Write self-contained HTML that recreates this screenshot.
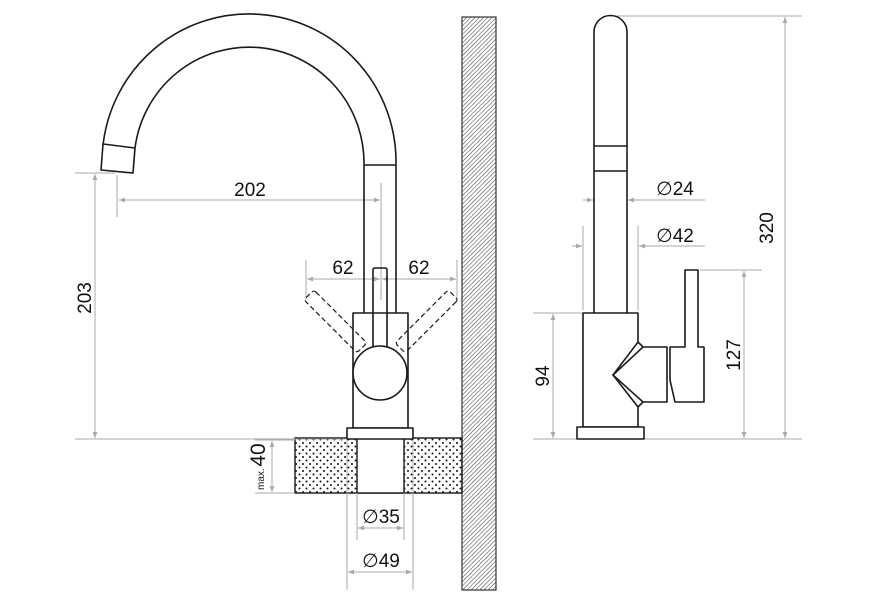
<!DOCTYPE html>
<html><head><meta charset="utf-8"><style>
html,body{margin:0;padding:0;background:#fff;width:874px;height:608px;overflow:hidden}
svg{display:block}
text{font-family:"Liberation Sans",Arial,sans-serif;fill:#111}
</style></head><body>
<svg width="874" height="608" viewBox="0 0 874 608" xmlns="http://www.w3.org/2000/svg">
<defs>
<marker id="a" viewBox="0 0 10 10" refX="10" refY="5" markerWidth="11" markerHeight="6" markerUnits="userSpaceOnUse" orient="auto-start-reverse">
<path d="M0,1 L10,5 L0,9 z" fill="#a8a8a8"/></marker>
<pattern id="h" width="3" height="3" patternUnits="userSpaceOnUse" patternTransform="rotate(45)">
<line x1="0" y1="0" x2="0" y2="3" stroke="#444" stroke-width="1.1"/></pattern>
<pattern id="d" width="7" height="7" patternUnits="userSpaceOnUse">
<circle cx="2" cy="2" r="1" fill="#111"/><circle cx="5.5" cy="5.5" r="1" fill="#111"/></pattern>
</defs>

<!-- wall -->
<rect x="462" y="17" width="34" height="573" fill="url(#h)" stroke="#333" stroke-width="1.2"/>

<!-- countertop -->
<rect x="295" y="438" width="167" height="55" fill="url(#d)" stroke="#222" stroke-width="1.5"/>
<rect x="357" y="438" width="47" height="55" fill="#fff" stroke="#222" stroke-width="1.5"/>

<g fill="none" stroke="#a8a8a8" stroke-width="1">
<line x1="117" y1="175" x2="117" y2="217"/>
<line x1="381" y1="183" x2="381" y2="300"/>
<line x1="119" y1="200" x2="380" y2="200" marker-start="url(#a)" marker-end="url(#a)"/>
<line x1="75" y1="173" x2="115" y2="173"/>
<line x1="75" y1="439" x2="345" y2="439"/>
<line x1="95" y1="174" x2="95" y2="438" marker-start="url(#a)" marker-end="url(#a)"/>
<line x1="306" y1="260" x2="306" y2="300"/>
<line x1="457" y1="260" x2="457" y2="300"/>
<line x1="307" y1="279" x2="380" y2="279" marker-start="url(#a)" marker-end="url(#a)"/>
<line x1="382" y1="279" x2="456" y2="279" marker-start="url(#a)" marker-end="url(#a)"/>
<line x1="255" y1="440" x2="295" y2="440"/>
<line x1="255" y1="493" x2="295" y2="493"/>
<line x1="272" y1="441" x2="272" y2="492" marker-start="url(#a)" marker-end="url(#a)"/>
<line x1="357" y1="493" x2="357" y2="540"/>
<line x1="404" y1="493" x2="404" y2="540"/>
<line x1="358" y1="528" x2="403" y2="528" marker-start="url(#a)" marker-end="url(#a)"/>
<line x1="347" y1="440" x2="347" y2="590"/>
<line x1="413" y1="440" x2="413" y2="590"/>
<line x1="348" y1="572" x2="412" y2="572" marker-start="url(#a)" marker-end="url(#a)"/>
<line x1="610" y1="16" x2="802" y2="16"/>
<line x1="533" y1="439" x2="802" y2="439"/>
<line x1="785" y1="17" x2="785" y2="438" marker-start="url(#a)" marker-end="url(#a)"/>
<line x1="700" y1="270" x2="762" y2="270"/>
<line x1="744" y1="271" x2="744" y2="438" marker-start="url(#a)" marker-end="url(#a)"/>
<line x1="533" y1="313" x2="583" y2="313"/>
<line x1="553" y1="314" x2="553" y2="438" marker-start="url(#a)" marker-end="url(#a)"/>
<line x1="583" y1="200" x2="593" y2="200" marker-end="url(#a)"/>
<line x1="705" y1="200" x2="628" y2="200" marker-end="url(#a)"/>
<line x1="583" y1="226" x2="583" y2="310"/>
<line x1="638" y1="226" x2="638" y2="310"/>
<line x1="572" y1="246" x2="582" y2="246" marker-end="url(#a)"/>
<line x1="705" y1="246" x2="639" y2="246" marker-end="url(#a)"/>
</g>

<!-- front view faucet -->
<g fill="none" stroke="#1a1a1a" stroke-width="1.6" stroke-linejoin="round">
<path d="M103,145 A147,148 0 0 1 396,165"/>
<path d="M135,148 A115,116 0 0 1 364,165"/>
<path d="M103,144 L135,148 L133,173 L101,170 Z" fill="#fff"/>
<line x1="364" y1="165" x2="396" y2="165"/>
<line x1="364" y1="165" x2="364" y2="313"/>
<line x1="396" y1="165" x2="396" y2="313"/>
<path d="M373,347 L373,270 Q373,268 375,268 L385,268 Q387,268 387,270 L387,347"/>
<rect x="353" y="313" width="55" height="115" fill="#fff"/>
<line x1="373" y1="313" x2="373" y2="348"/>
<line x1="387" y1="313" x2="387" y2="348"/>
<rect x="347" y="428" width="66" height="11" fill="#fff"/>
<g stroke-dasharray="5,3" stroke-width="1.2">
<rect x="-3" y="-7" width="75" height="14" rx="3" transform="translate(311,297) rotate(45)"/>
<rect x="-3" y="-7" width="75" height="14" rx="3" transform="translate(451,297) rotate(135)"/>
</g>
<circle cx="380" cy="373" r="27" fill="#fff"/>
</g>

<!-- side view faucet -->
<g fill="none" stroke="#1a1a1a" stroke-width="1.6" stroke-linejoin="round">
<path d="M594,313 L594,32 A16.5,16.5 0 0 1 627,32 L627,313"/>
<line x1="594" y1="146" x2="627" y2="146"/>
<line x1="594" y1="171" x2="627" y2="171"/>
<path d="M638,313 L583,313 L583,427 L638,427 L638,407 L613,375 L638,342 Z" fill="#fff"/>
<path d="M638,342 L643,347 L667,347 L667,402 L643,402 L638,407"/>
<path d="M643,347 L613,375 L643,402"/>
<path d="M685,270 L698,270 L698,347 L704,347 L704,402 L675,402 L670,380 L670,347 L685,347 Z" fill="#fff"/>
<rect x="577" y="427" width="67" height="12" fill="#fff"/>
</g>

<g font-size="19">
<text x="250" y="196" text-anchor="middle">202</text>
<text x="343" y="274" text-anchor="middle">62</text>
<text x="419" y="274" text-anchor="middle">62</text>
<text transform="translate(91,298) rotate(-90)" text-anchor="middle">203</text>
<text transform="translate(265,455) rotate(-90)" text-anchor="middle" font-size="21">40</text>
<text transform="translate(264,490) rotate(-90)" text-anchor="start" font-size="10">max.</text>
<text x="381" y="523" text-anchor="middle">∅35</text>
<text x="381" y="567" text-anchor="middle">∅49</text>
<text x="675" y="195" text-anchor="middle">∅24</text>
<text x="675" y="242" text-anchor="middle">∅42</text>
<text transform="translate(773,228) rotate(-90)" text-anchor="middle">320</text>
<text transform="translate(740,355) rotate(-90)" text-anchor="middle">127</text>
<text transform="translate(549,376) rotate(-90)" text-anchor="middle">94</text>
</g>
</svg>
</body></html>
